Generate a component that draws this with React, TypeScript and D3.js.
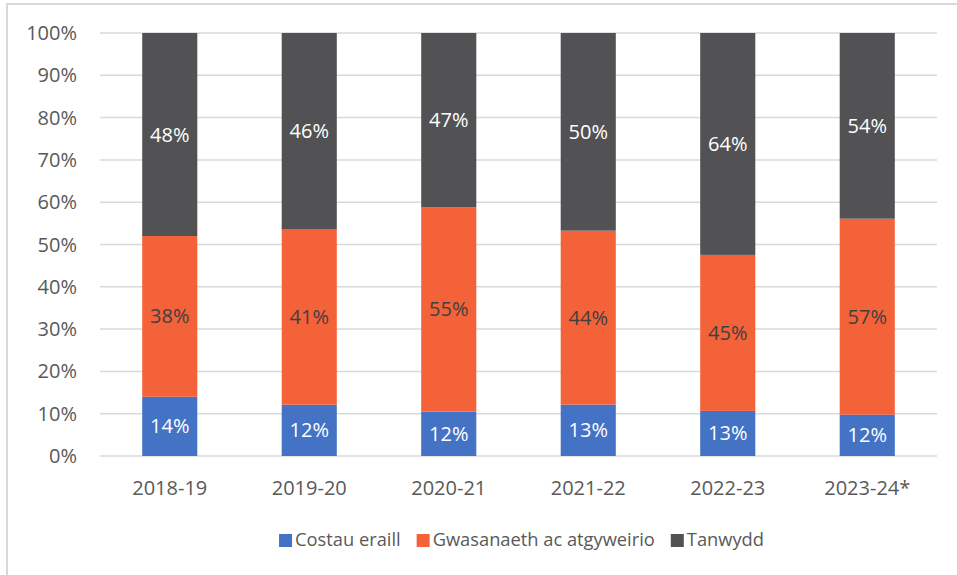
import React, { useEffect, useRef } from "react";
import * as d3 from "d3";

// Years on the x axis
const categories = ["2018-19", "2019-20", "2020-21", "2021-22", "2022-23", "2023-24*"];

// Series labels as printed on the bars (bars are normalised to 100%)
const costauEraill = [14, 12, 12, 13, 13, 12];
const gwasanaeth = [38, 41, 55, 44, 45, 57];
const tanwydd = [48, 46, 47, 50, 64, 54];

const seriesNames = ["Costau eraill", "Gwasanaeth ac atgyweirio", "Tanwydd"];
const yTicks = [0, 0.1, 0.2, 0.3, 0.4, 0.5, 0.6, 0.7, 0.8, 0.9, 1];

const WIDTH = 957;
const HEIGHT = 575;
const FONT = "'Open Sans', 'Noto Sans', sans-serif";
const NUM_SIZE = 20;
const LEGEND_SIZE = 18.3;

const colors = ["#4472C4", "#F4623A", "#525254"];
const labelColors = ["#ffffff", "#404040", "#ffffff"];

interface Row {
  year: string;
  [key: string]: string | number;
}

export default function App() {
  const svgRef = useRef<SVGSVGElement>(null);

  useEffect(() => {
    if (!svgRef.current) return;
    const svg = d3.select(svgRef.current);
    svg.selectAll("*").remove();

    const margin = { top: 33, right: 20, bottom: 119, left: 100 };
    const plotW = 937 - margin.left;
    const plotH = 456 - margin.top;

    // Chart frame (cut off at right and bottom like the source)
    svg
      .append("rect")
      .attr("x", 7)
      .attr("y", 4)
      .attr("width", WIDTH + 10)
      .attr("height", HEIGHT + 10)
      .attr("fill", "#fff")
      .attr("stroke", "#d9d9d9")
      .attr("stroke-width", 2);

    const rows: Row[] = categories.map((year, i) => ({
      year,
      [seriesNames[0]]: costauEraill[i],
      [seriesNames[1]]: gwasanaeth[i],
      [seriesNames[2]]: tanwydd[i],
    }));

    const stack = d3
      .stack<Row>()
      .keys(seriesNames)
      .value((d, key) => d[key] as number)
      .offset(d3.stackOffsetExpand);
    const stacked = stack(rows);

    const x = d3
      .scaleBand<string>()
      .domain(categories)
      .range([0, plotW])
      .paddingInner(0.605)
      .paddingOuter(0.3025);
    const y = d3.scaleLinear().domain([0, 1]).range([plotH, 0]);

    const g = svg
      .append("g")
      .attr("transform", `translate(${margin.left},${margin.top})`);

    // Gridlines
    g.selectAll(".grid")
      .data(yTicks)
      .enter()
      .append("line")
      .attr("x1", 0)
      .attr("x2", plotW)
      .attr("y1", (d) => y(d))
      .attr("y2", (d) => y(d))
      .attr("stroke", "#d9d9d9")
      .attr("stroke-width", 1.5);

    // Y tick labels
    g.selectAll(".ytick")
      .data(yTicks)
      .enter()
      .append("text")
      .attr("x", -23)
      .attr("y", (d) => y(d))
      .attr("dy", "0.35em")
      .attr("text-anchor", "end")
      .attr("font-family", FONT)
      .attr("font-size", NUM_SIZE)
      .attr("fill", "#595959")
      .text((d) => d3.format(".0%")(d));

    // X tick labels
    g.selectAll(".xtick")
      .data(categories)
      .enter()
      .append("text")
      .attr("x", (d) => x(d)! + x.bandwidth() / 2)
      .attr("y", plotH + 32)
      .attr("dy", "0.35em")
      .attr("text-anchor", "middle")
      .attr("font-family", FONT)
      .attr("font-size", NUM_SIZE)
      .attr("fill", "#595959")
      .text((d) => d);

    // Bars
    const layer = g
      .selectAll(".layer")
      .data(stacked)
      .enter()
      .append("g")
      .attr("fill", (_, i) => colors[i]);

    layer
      .selectAll("rect")
      .data((d) => d)
      .enter()
      .append("rect")
      .attr("x", (d) => x(d.data.year)!)
      .attr("width", x.bandwidth())
      .attr("y", (d) => y(d[1]))
      .attr("height", (d) => y(d[0]) - y(d[1]));

    // Data labels
    stacked.forEach((s, si) => {
      g.selectAll(`.lbl-${si}`)
        .data(s)
        .enter()
        .append("text")
        .attr("x", (d) => x(d.data.year)! + x.bandwidth() / 2)
        .attr("y", (d) => (y(d[0]) + y(d[1])) / 2)
        .attr("dy", "0.35em")
        .attr("text-anchor", "middle")
        .attr("font-family", FONT)
        .attr("font-size", NUM_SIZE)
        .attr("fill", labelColors[si])
        .text((d) => `${d.data[s.key]}%`);
    });

    // Legend
    const legend = svg.append("g").attr("transform", `translate(0, 540)`);
    const items = legend
      .selectAll(".item")
      .data(seriesNames)
      .enter()
      .append("g");
    items
      .append("rect")
      .attr("width", 13)
      .attr("height", 13)
      .attr("y", -6)
      .attr("fill", (_, i) => colors[i]);
    const texts = items
      .append("text")
      .attr("x", 16)
      .attr("dy", "0.35em")
      .attr("font-family", FONT)
      .attr("font-size", LEGEND_SIZE)
      .attr("fill", "#595959")
      .text((d) => d);

    const widths: number[] = [];
    texts.each(function () {
      widths.push((this as SVGTextElement).getComputedTextLength() + 16);
    });
    const gap = 16;
    const total = d3.sum(widths) + gap * (widths.length - 1);
    let cx = 521.5 - total / 2;
    items.attr("transform", (_, i) => {
      const t = `translate(${cx},0)`;
      cx += widths[i] + gap;
      return t;
    });
  }, []);

  return (
    <svg
      ref={svgRef}
      width={WIDTH}
      height={HEIGHT}
      style={{ position: "absolute", left: 0, top: 0, background: "#fff" }}
    />
  );
}
